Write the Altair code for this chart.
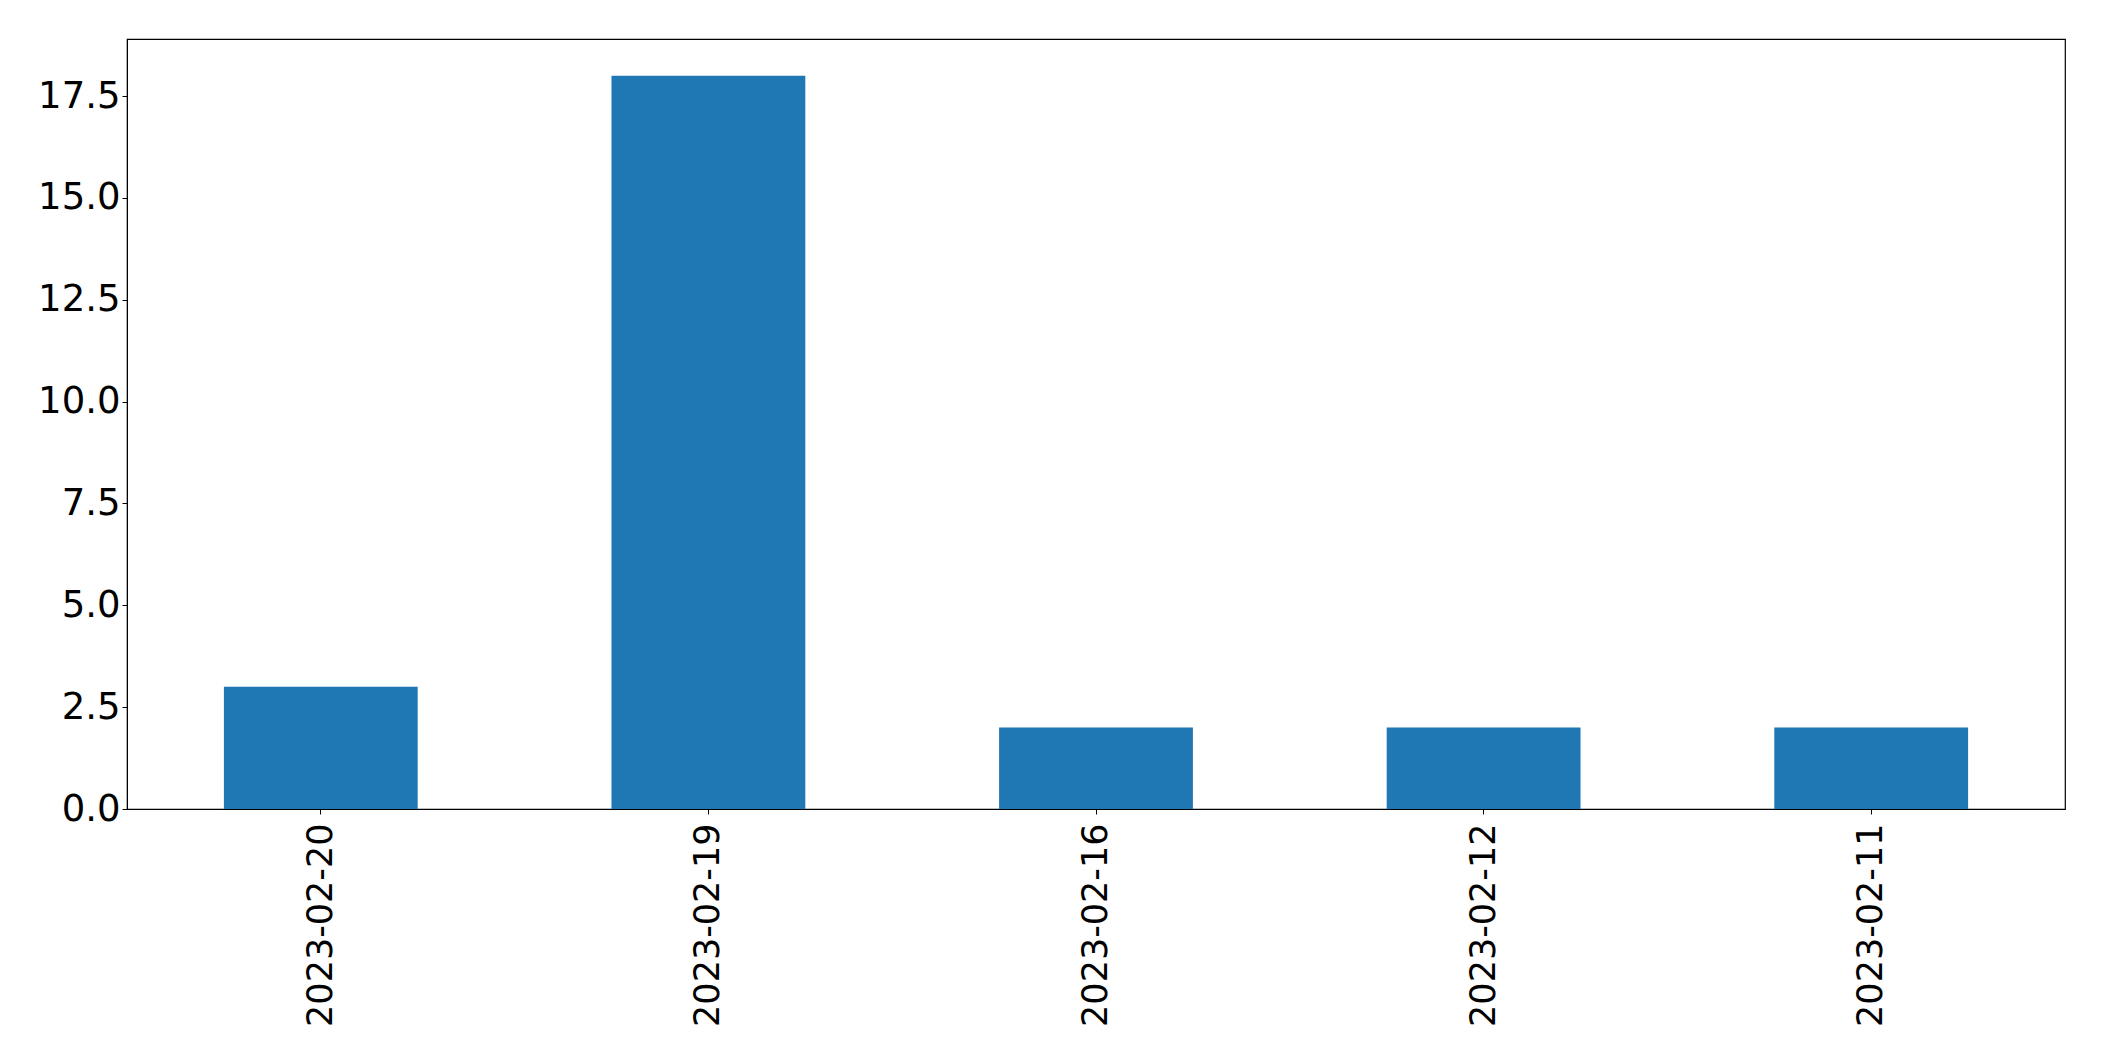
import altair as alt
import pandas as pd

dates = ["2023-02-20", "2023-02-19", "2023-02-16", "2023-02-12", "2023-02-11"]
counts = [3, 18, 2, 2, 2]
y_ticks = [0.0, 2.5, 5.0, 7.5, 10.0, 12.5, 15.0, 17.5]

df = pd.DataFrame({"date": dates, "count": counts})

chart = alt.Chart(df).mark_bar(color="#1f77b4").encode(
    x=alt.X("date:N", sort=dates, title=None,
            scale=alt.Scale(paddingInner=0.5, paddingOuter=0.25),
            axis=alt.Axis(labelAngle=-90, labelFontSize=35, labelFont="DejaVu Sans",
                          labelColor="black", tickColor="black", tickSize=5,
                          domainColor="black", labelPadding=9, labelAlign="right",
                          labelBaseline="middle", labelLimit=0)),
    y=alt.Y("count:Q", title=None,
            scale=alt.Scale(domain=[0, 18.9], nice=False, zero=True),
            axis=alt.Axis(values=y_ticks, format=".1f", labelFontSize=37,
                          labelFont="DejaVu Sans", labelColor="black",
                          tickColor="black", tickSize=5, domainColor="black",
                          grid=False, labelPadding=2, labelLimit=0)),
).properties(
    width=1938, height=770,
    autosize=alt.AutoSizeParams(type="none"),
    padding={"left": 119, "top": 31, "right": 30, "bottom": 240},
).configure_view(stroke="black", strokeWidth=1.2).configure_axis(grid=False)

chart.save("out.html", embed_options={"renderer": "svg", "actions": False})
